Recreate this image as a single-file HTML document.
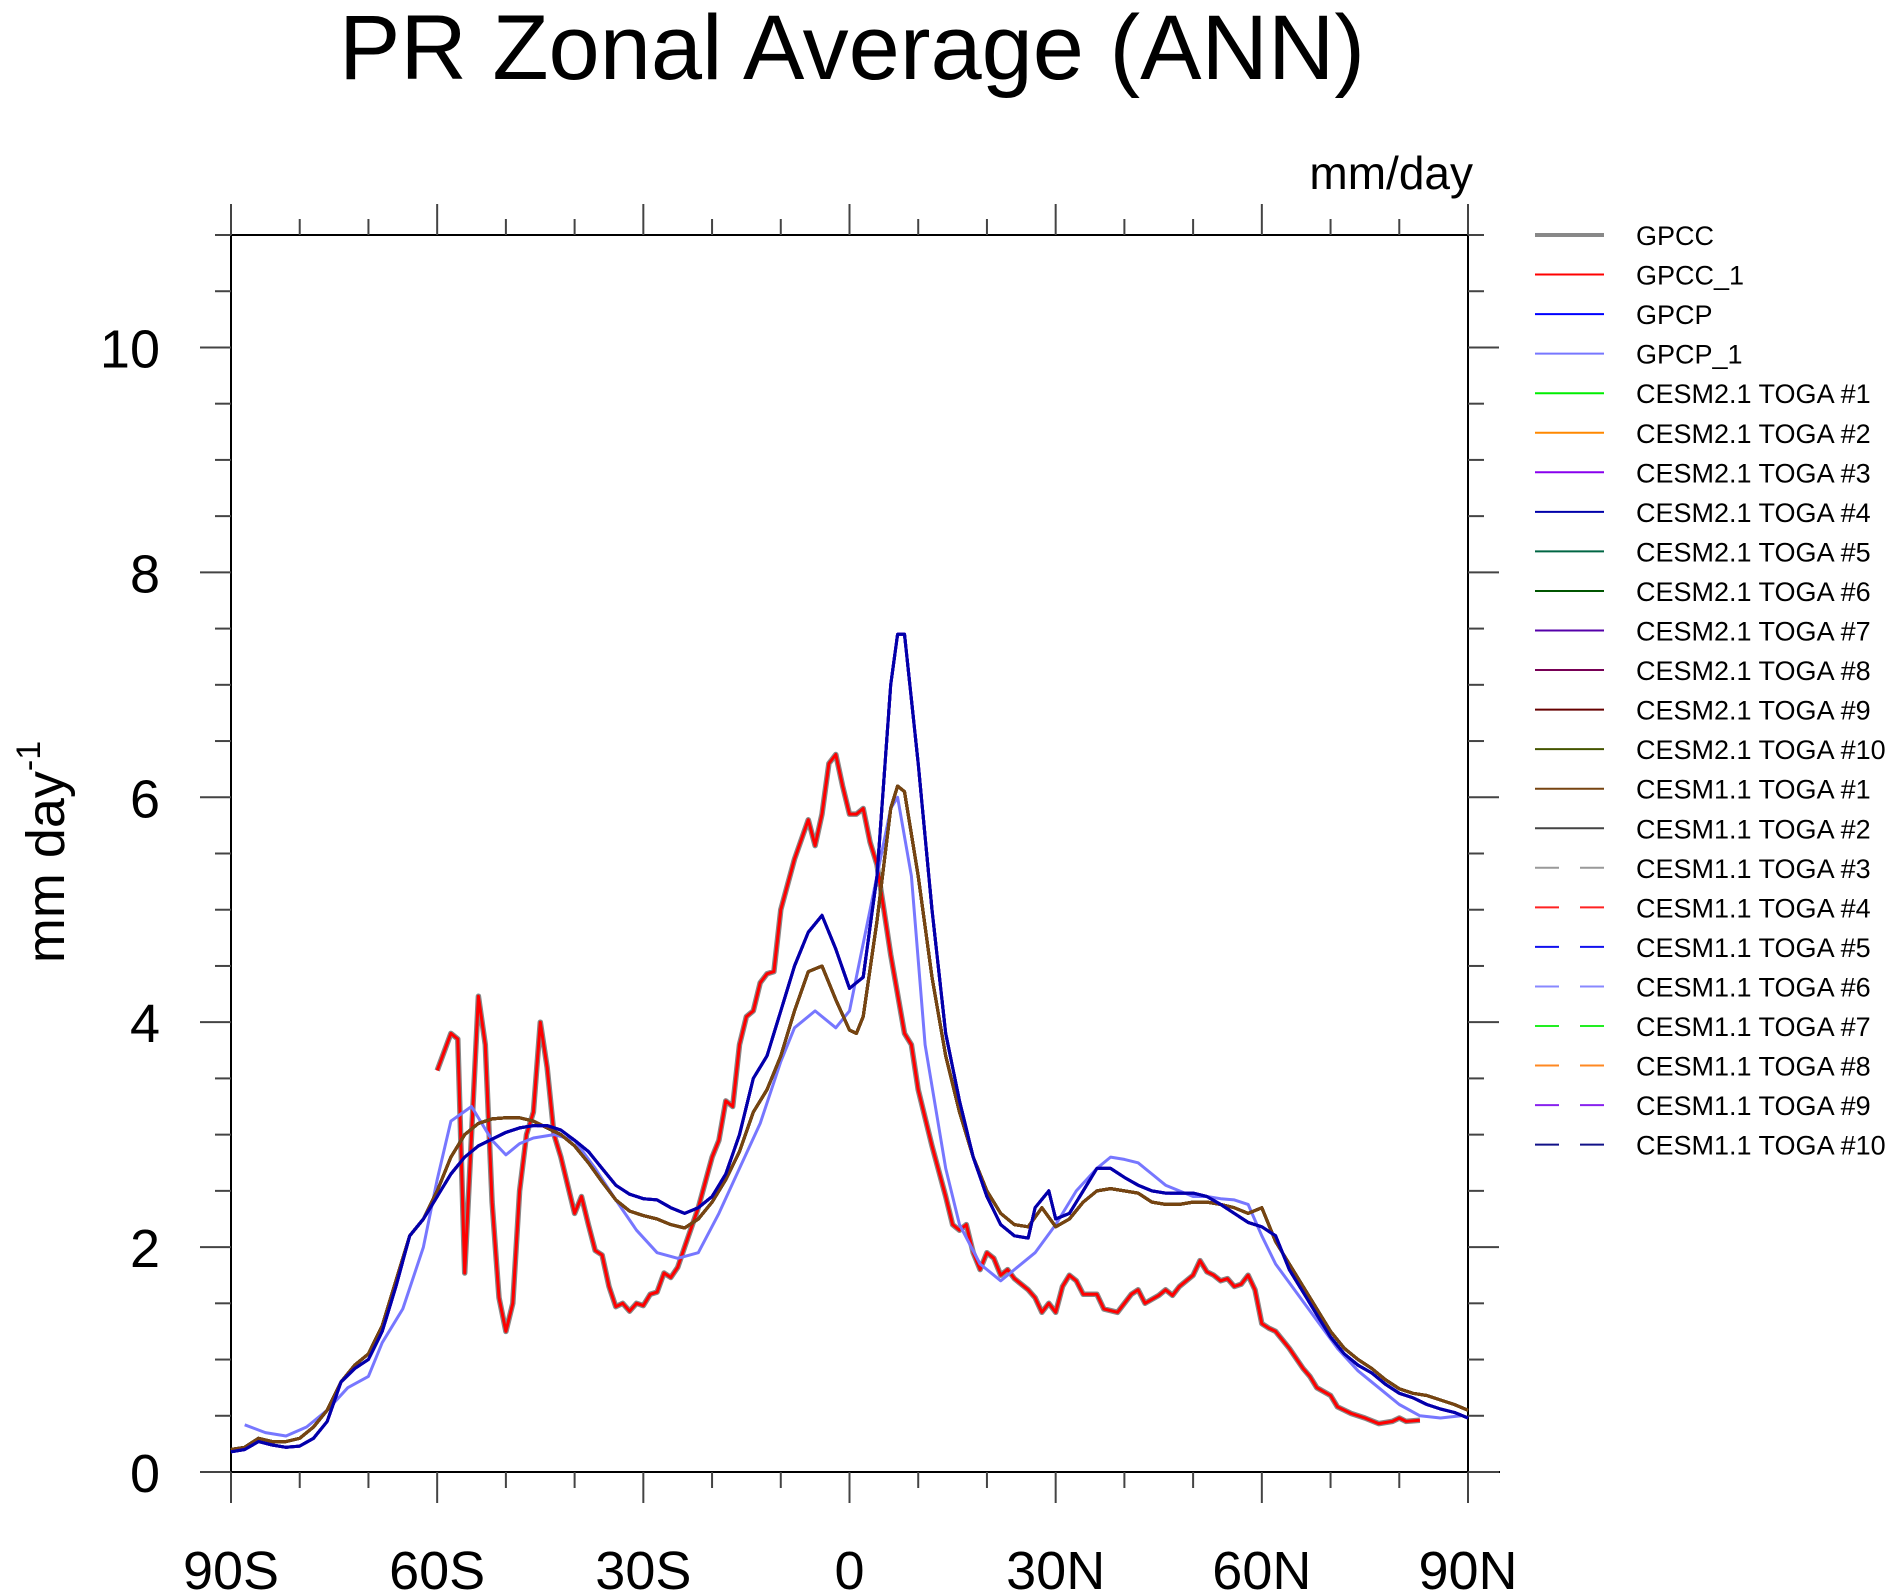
<!DOCTYPE html>
<html><head><meta charset="utf-8"><style>
html,body{margin:0;padding:0;background:#fff;}
svg{display:block;font-family:"Liberation Sans",sans-serif;}
</style></head><body>
<svg id="chart" width="1903" height="1595" viewBox="0 0 1903 1595" xmlns="http://www.w3.org/2000/svg">
<text x="852" y="79" font-size="92" text-anchor="middle">PR Zonal Average (ANN)</text>
<text x="1473" y="189" font-size="46" text-anchor="end">mm/day</text>
<text transform="translate(64,852) rotate(-90)" font-size="54" text-anchor="middle">mm day<tspan font-size="34" dy="-24">-1</tspan></text>
<g id="axes"></g>
<g id="plot"></g>
<g id="legend"></g>
</svg>
<script>
// ---- data ----
const latA = [-90,-88,-86,-84,-82,-80,-78,-76,-74,-72,-70,-68,-66,-64,-62,-60,-58,-56,-54,-52,-50,-48,-46,-44,-42,-40,-38,-36,-34,-32,-30,-28,-26,-24,-22,-20,-18,-16,-14,-12,-10,-8,-6,-4,-2,0,2,4,6,7,8,10,12,14,16,18,20,22,24,26,27,29,30,32,34,36,38,40,42,44,46,48,50,52,54,56,58,60,62,64,66,68,70,72,74,76,78,80,82,84,86,88,90];
const valA = [0.18,0.2,0.27,0.24,0.22,0.23,0.3,0.45,0.8,0.92,1.0,1.25,1.65,2.1,2.25,2.45,2.65,2.8,2.9,2.96,3.02,3.06,3.08,3.08,3.04,2.95,2.85,2.7,2.55,2.47,2.43,2.42,2.35,2.3,2.35,2.45,2.65,3.0,3.5,3.7,4.1,4.5,4.8,4.95,4.65,4.3,4.4,5.3,7.0,7.45,7.45,6.3,5.0,3.9,3.3,2.8,2.45,2.2,2.1,2.08,2.35,2.5,2.25,2.3,2.5,2.7,2.7,2.62,2.55,2.5,2.48,2.48,2.48,2.45,2.38,2.3,2.22,2.18,2.1,1.8,1.6,1.4,1.2,1.05,0.95,0.88,0.78,0.7,0.66,0.6,0.56,0.53,0.48];
const latB = [-90,-88,-86,-84,-82,-80,-78,-76,-74,-72,-70,-68,-66,-64,-62,-60,-58,-56,-54,-52,-50,-48,-46,-44,-42,-40,-38,-36,-34,-32,-30,-28,-26,-24,-22,-20,-18,-16,-14,-12,-10,-8,-6,-4,-2,0,1,2,4,6,7,8,10,12,14,16,18,20,22,24,26,28,30,32,34,36,38,40,42,44,46,48,50,52,54,56,58,60,62,64,66,68,70,72,74,76,78,80,82,84,86,88,90];
const valB = [0.2,0.22,0.3,0.27,0.27,0.3,0.4,0.55,0.8,0.95,1.05,1.3,1.7,2.1,2.25,2.5,2.8,3.0,3.1,3.14,3.15,3.15,3.12,3.06,3.0,2.9,2.75,2.58,2.42,2.32,2.28,2.25,2.2,2.17,2.25,2.4,2.6,2.85,3.2,3.4,3.7,4.1,4.45,4.5,4.2,3.93,3.9,4.05,4.9,5.9,6.1,6.05,5.3,4.4,3.7,3.2,2.8,2.5,2.3,2.2,2.18,2.35,2.18,2.25,2.4,2.5,2.52,2.5,2.48,2.4,2.38,2.38,2.4,2.4,2.38,2.35,2.3,2.35,2.05,1.85,1.65,1.45,1.25,1.1,1.0,0.92,0.82,0.74,0.7,0.68,0.64,0.6,0.55];
const latGPCC = [-60,-58,-57,-56,-54,-53,-52,-51,-50,-49,-48,-47,-46,-45,-44,-43,-42,-41,-40,-39,-38,-37,-36,-35,-34,-33,-32,-31,-30,-29,-28,-27,-26,-25,-24,-22,-20,-19,-18,-17,-16,-15,-14,-13,-12,-11,-10,-8,-6,-5,-4,-3,-2,-1,0,1,2,3,4,5,6,8,9,10,12,14,15,16,17,18,19,20,21,22,23,24,26,27,28,29,30,31,32,33,34,36,37,39,41,42,43,45,46,47,48,50,51,52,53,54,55,56,57,58,59,60,61,62,64,66,67,68,70,71,73,75,77,79,80,81,83];
const valGPCC = [3.57,3.9,3.85,1.77,4.23,3.8,2.4,1.55,1.25,1.5,2.5,3.0,3.2,4.0,3.6,3.0,2.8,2.55,2.3,2.45,2.2,1.97,1.93,1.65,1.47,1.5,1.43,1.5,1.48,1.58,1.6,1.77,1.73,1.82,2.0,2.35,2.8,2.95,3.3,3.25,3.8,4.05,4.1,4.35,4.43,4.45,5.0,5.45,5.8,5.57,5.85,6.3,6.38,6.1,5.85,5.85,5.9,5.6,5.4,5.0,4.6,3.9,3.8,3.4,2.9,2.45,2.2,2.15,2.2,1.95,1.8,1.95,1.9,1.75,1.8,1.72,1.62,1.55,1.42,1.5,1.42,1.65,1.75,1.7,1.58,1.58,1.45,1.42,1.58,1.62,1.5,1.57,1.62,1.57,1.65,1.75,1.88,1.78,1.75,1.7,1.72,1.65,1.67,1.75,1.62,1.32,1.28,1.25,1.1,0.92,0.85,0.75,0.68,0.58,0.52,0.48,0.43,0.45,0.48,0.45,0.46];
const latGPCP1 = [-88,-85,-82,-79,-76,-73,-70,-68,-65,-62,-60,-58,-55,-52,-50,-48,-46,-43,-40,-37,-34,-31,-28,-25,-22,-19,-16,-13,-10,-8,-5,-2,0,3,6,7,9,11,14,16,19,22,24,27,30,33,36,38,40,42,44,46,48,50,52,54,56,58,60,62,65,68,71,74,77,80,83,86,89];
const valGPCP1 = [0.42,0.35,0.32,0.4,0.55,0.75,0.85,1.15,1.45,2.0,2.6,3.12,3.25,2.95,2.82,2.92,2.97,3.0,2.95,2.7,2.42,2.15,1.95,1.9,1.95,2.3,2.7,3.1,3.65,3.95,4.1,3.95,4.1,5.0,5.9,6.0,5.3,3.8,2.7,2.2,1.85,1.7,1.8,1.95,2.2,2.5,2.7,2.8,2.78,2.75,2.65,2.55,2.5,2.45,2.45,2.43,2.42,2.38,2.1,1.85,1.6,1.35,1.1,0.9,0.75,0.6,0.5,0.48,0.5];
const seriesNames = ["GPCC","GPCC_1","GPCP","GPCP_1","CESM2.1 TOGA #1","CESM2.1 TOGA #2","CESM2.1 TOGA #3","CESM2.1 TOGA #4","CESM2.1 TOGA #5","CESM2.1 TOGA #6","CESM2.1 TOGA #7","CESM2.1 TOGA #8","CESM2.1 TOGA #9","CESM2.1 TOGA #10","CESM1.1 TOGA #1","CESM1.1 TOGA #2","CESM1.1 TOGA #3","CESM1.1 TOGA #4","CESM1.1 TOGA #5","CESM1.1 TOGA #6","CESM1.1 TOGA #7","CESM1.1 TOGA #8","CESM1.1 TOGA #9","CESM1.1 TOGA #10"];
const seriesGroup = ["GPCC","GPCC","A","GPCP1","B","B","A","A","B","B","A","B","B","B","B","B","B","B","A","B","A","B","A","A"];
const xTicks = [-90,-60,-30,0,30,60,90];
const xTickLabels = ["90S","60S","30S","0","30N","60N","90N"];
const yTicks = [0,2,4,6,8,10];
const yTickLabels = ["0","2","4","6","8","10"];

const colors = ["#888888","#ff0000","#0000ff","#7777ff","#00ee00","#ff8800","#8800ee","#0000aa","#006644","#005500","#5500aa","#770055","#660000","#445500","#774411","#444444","#999999","#ff2222","#1111ee","#8888ff","#22ee22","#ff8822","#8822ee","#111188"];
const dashed = seriesNames.map((n,i)=>i>=16);
const widths = seriesNames.map((n,i)=>i===0?5.5:3);

const X0=231,X1=1468,Y0=1472,Y1=235;
const xs = lat => X0+(lat+90)/180*(X1-X0);
const ys = v => Y0-v/11*(Y0-Y1);
const NS="http://www.w3.org/2000/svg";
function mk(tag,attrs,parent){const e=document.createElementNS(NS,tag);for(const k in attrs)e.setAttribute(k,attrs[k]);parent.appendChild(e);return e;}

const axes=document.getElementById('axes');
let fr=mk('rect',{x:X0,y:Y1,width:X1-X0,height:Y0-Y1,fill:'none',stroke:'#000','stroke-width':2},axes);


let bl=mk('line',{x1:X1,y1:Y0,x2:1500,y2:Y0,stroke:'#000','stroke-width':2},axes);


for(let lat=-90;lat<=90;lat+=10){
  const major=lat%30===0, x=xs(lat), L=major?31:16;
  const t1=mk('line',{x1:x,y1:Y0,x2:x,y2:Y0+L,stroke:'#444','stroke-width':2},axes);
  
  
  const t2=mk('line',{x1:x,y1:Y1,x2:x,y2:Y1-L,stroke:'#444','stroke-width':2},axes);
  
  
}
xTicks.forEach((lat,i)=>{
  const t=mk('text',{x:xs(lat),y:1589,'font-size':54,'text-anchor':'middle'},axes);
  t.textContent=xTickLabels[i];
  
  
});
for(let v=0;v<=11;v+=0.5){
  const major=v%2===0, y=ys(v), L=major?31:16;
  const a=mk('line',{x1:X0,y1:y,x2:X0-L,y2:y,stroke:'#444','stroke-width':2},axes);
  
  
  const b=mk('line',{x1:X1,y1:y,x2:X1+L,y2:y,stroke:'#444','stroke-width':2},axes);
  
  
}
yTicks.forEach((v,i)=>{
  const t=mk('text',{x:160,y:ys(v)+20,'font-size':54,'text-anchor':'end'},axes);
  t.textContent=yTickLabels[i];
  
  
});

const plot=document.getElementById('plot');
const groupData={GPCC:[latGPCC,valGPCC],A:[latA,valA],B:[latB,valB],GPCP1:[latGPCP1,valGPCP1]};
function pathFor(g){const [la,va]=groupData[g];return la.map((l,i)=>(i?'L':'M')+xs(l).toFixed(1)+','+ys(va[i]).toFixed(1)).join(' ');}
// dashed first, then solids; brown/olive last for group B, navy last for group A
const order=[0,1,3,16,17,19,21,20,22,18,23,4,5,8,9,15,11,12,13,14,2,6,10,7];
order.forEach(i=>{
  const p=mk('path',{d:pathFor(seriesGroup[i]),fill:'none',stroke:colors[i],'stroke-width':widths[i],'stroke-linejoin':'round'},plot);
  if(dashed[i])p.setAttribute('stroke-dasharray','24 14');
  
  
});

const leg=document.getElementById('legend');
seriesNames.forEach((n,i)=>{
  const y=235+i*39.55;
  const l=mk('line',{x1:1535,y1:y,x2:1604,y2:y,stroke:colors[i],'stroke-width':i===0?4:2},leg);
  if(dashed[i])l.setAttribute('stroke-dasharray','24 21');
  
  
  const t=mk('text',{x:1636,y:y+10,'font-size':27},leg);
  t.textContent=n;
  
  
});
</script>
</body></html>
